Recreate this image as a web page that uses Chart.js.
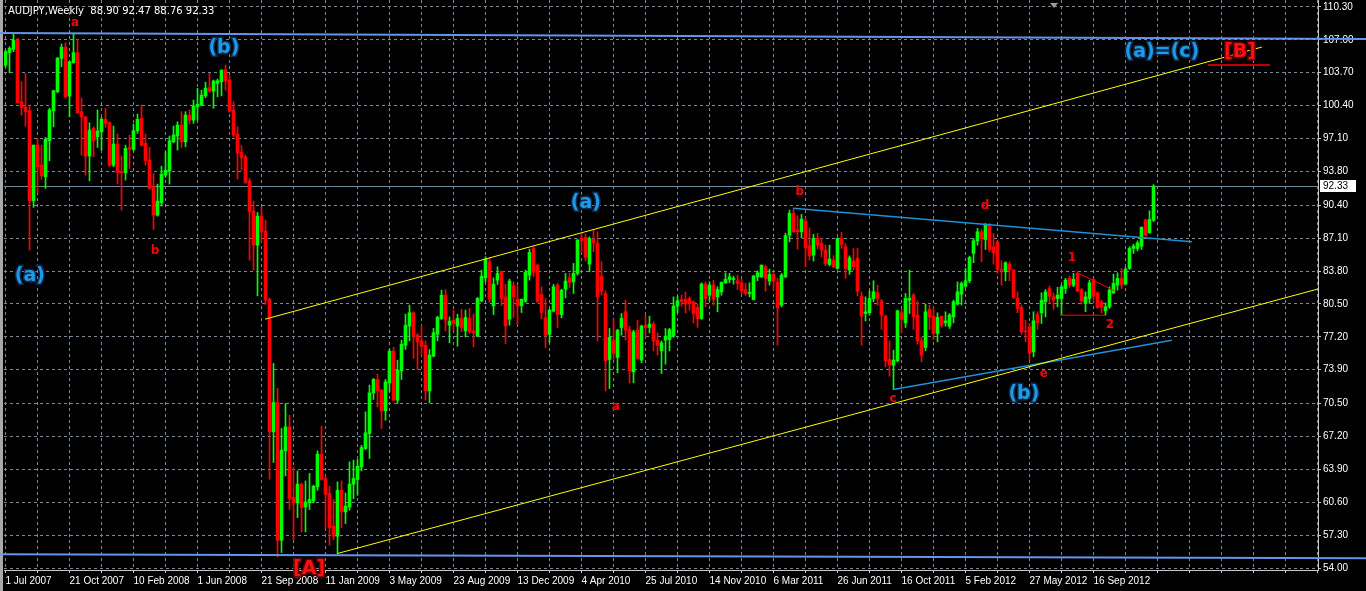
<!DOCTYPE html>
<html>
<head>
<meta charset="utf-8">
<title>AUDJPY Weekly</title>
<script src="https://cdn.jsdelivr.net/npm/chart.js@4.4.0/dist/chart.umd.min.js"></script>
<style>
  html, body { margin: 0; padding: 0; background: #000; overflow: hidden; }
  canvas { display: block; }
</style>
</head>
<body>
<canvas id="chart" width="1366" height="591"></canvas>
<script>
// Weekly AUDJPY bars, one per week starting 1 Jul 2007
const opens = [104.47,105.71,106.05,106.98,100.79,100.23,99.89,90.85,96.44,94.43,
93.26,96.87,99.89,101.79,105.15,106.25,101.36,104.71,105.71,99.79,
99.28,95.34,98.12,97.28,97.78,99.02,98.68,94.43,96.54,93.76,
93.66,96.21,96.01,97.88,99.12,96.61,94.94,92.26,89.41,90.65,
93.43,93.86,96.77,97.35,98.45,96.77,99.45,98.95,100.29,100.46,
101.39,102.19,101.86,102.64,102.80,103.97,102.97,99.96,97.52,95.71,
95.27,92.83,89.82,86.40,89.31,87.81,80.95,67.66,70.61,56.78,
65.75,68.16,61.07,60.53,62.41,60.13,60.53,60.73,62.14,65.42,
62.98,61.47,58.19,57.19,61.80,59.63,60.13,62.41,62.88,64.14,
65.99,67.50,71.57,72.92,71.84,69.77,72.58,75.76,70.84,73.78,
76.36,78.27,79.61,77.37,76.79,76.36,71.77,75.26,77.47,79.04,
81.38,78.37,78.87,78.27,79.04,77.80,79.04,77.80,77.27,80.78,
83.12,84.73,80.31,82.89,83.79,81.21,78.97,82.32,80.98,80.31,
80.78,83.39,86.07,84.40,81.45,79.10,77.44,79.78,82.39,79.44,
81.98,83.12,82.72,83.56,87.07,87.18,84.49,86.97,86.57,83.29,
81.55,74.93,76.86,75.13,78.14,79.71,77.94,73.68,77.87,74.86,
78.37,78.14,78.47,76.86,75.79,76.86,76.93,77.27,80.28,80.95,
80.95,81.05,80.71,80.15,79.04,82.49,81.38,82.39,81.21,81.71,
82.62,82.96,82.96,82.82,82.62,81.95,81.55,80.95,83.22,83.22,
84.23,82.79,83.46,82.66,80.38,83.22,87.41,89.58,87.91,87.74,
88.81,86.34,85.40,87.07,86.57,85.90,84.46,84.90,84.06,87.07,
86.23,83.89,84.80,85.07,81.28,79.54,79.61,81.05,81.61,80.81,
79.27,74.93,74.35,74.79,79.61,78.60,80.88,81.38,79.37,76.79,
76.13,79.95,79.27,77.54,79.27,78.60,78.27,79.20,80.48,81.48,
82.29,82.82,85.57,86.83,87.74,86.97,88.41,86.23,86.73,83.96,
83.72,84.49,83.89,81.05,80.15,77.80,78.20,75.69,79.47,79.61,
80.71,82.05,81.21,81.05,81.05,82.05,83.06,82.39,83.56,81.95,
80.55,81.05,82.96,81.61,80.71,79.81,80.21,81.61,82.39,83.06,
82.49,84.06,86.07,86.07,86.30,88.91,87.64,88.90];

const highs = [105.98,106.31,107.59,107.15,102.80,103.64,100.46,96.44,97.11,96.44,
97.21,100.13,101.96,105.25,106.58,106.71,104.81,107.59,107.05,101.13,
99.28,98.68,98.28,99.96,99.22,100.13,98.78,98.35,97.55,95.34,
96.44,97.45,98.55,99.55,100.46,97.55,96.21,93.60,92.53,94.33,
95.77,97.35,98.35,98.78,99.79,99.79,99.96,100.96,102.13,101.96,
102.74,103.64,102.97,103.07,103.97,104.47,103.40,100.79,98.28,96.37,
95.44,93.10,90.82,89.68,90.19,88.91,81.11,74.53,72.02,68.00,
70.51,69.33,64.14,63.74,62.54,62.74,63.48,62.31,65.75,68.23,
63.14,62.21,60.87,62.64,62.74,61.53,64.65,64.82,64.89,66.32,
69.67,72.35,73.02,73.45,71.91,72.92,75.93,76.13,74.86,76.86,
79.47,80.38,79.71,77.54,78.37,76.79,75.93,78.04,79.27,81.88,
81.95,79.20,79.88,79.47,79.95,79.88,80.05,79.47,81.15,83.89,
85.23,85.13,83.12,84.22,83.79,82.46,82.99,82.72,82.32,80.98,
83.89,86.00,86.23,84.46,82.22,81.05,79.98,82.46,82.56,81.98,
83.56,83.56,84.56,86.97,87.58,87.51,87.24,87.91,87.74,84.73,
81.81,78.04,78.94,77.94,79.54,80.88,78.27,77.87,78.87,78.37,
79.37,79.27,78.70,77.60,76.79,78.04,78.04,81.21,81.28,81.38,
81.71,81.21,80.81,80.48,82.62,82.72,82.72,82.89,82.22,82.72,
83.62,83.56,83.29,83.39,82.96,82.56,82.62,83.39,83.82,84.40,
84.40,83.99,83.66,83.06,83.56,87.58,89.92,90.02,89.34,89.48,
89.14,88.14,87.48,87.58,87.07,86.40,86.40,85.33,87.14,87.68,
86.57,85.33,86.07,86.07,81.71,81.21,81.81,82.82,82.39,80.95,
79.37,76.79,75.86,79.88,79.95,81.55,83.89,81.55,80.81,77.14,
80.48,80.38,80.15,79.61,79.27,79.71,79.54,80.88,82.72,82.72,
84.06,85.30,87.07,88.08,87.98,88.58,88.58,87.58,86.83,84.83,
84.73,84.73,83.96,81.71,80.38,78.87,78.54,79.71,79.71,81.61,
81.95,82.29,81.61,82.16,82.39,83.06,83.29,83.56,83.72,82.05,
81.71,82.89,83.06,81.71,80.88,80.61,82.22,83.49,83.62,84.06,
84.16,86.23,86.50,86.83,88.24,89.01,89.85,92.47];

const lows = [104.31,103.70,105.81,100.63,99.45,98.35,85.90,90.19,91.65,93.00,
92.10,94.87,98.28,101.69,104.31,101.19,99.28,104.65,99.62,95.44,
93.43,92.86,95.27,96.21,95.94,98.22,94.26,94.26,92.53,89.92,
92.93,94.10,95.87,97.62,96.34,94.43,92.00,87.98,89.31,90.32,
93.20,92.53,96.67,95.94,96.21,96.27,98.55,98.62,98.95,100.39,
101.19,101.73,100.13,101.29,101.39,101.96,99.73,97.28,93.03,93.93,
92.60,84.90,83.89,81.31,86.73,80.45,62.91,64.59,55.11,55.55,
63.24,59.87,56.78,59.06,57.62,57.62,59.87,60.53,61.80,62.81,
57.96,56.28,56.85,55.45,58.06,58.46,59.80,60.97,61.30,63.74,
65.89,64.99,70.91,70.17,68.00,68.83,71.67,70.77,70.51,72.92,
75.93,76.79,75.03,73.92,75.36,70.84,70.57,75.19,76.79,78.94,
77.80,76.59,77.80,76.26,77.70,77.20,77.54,76.19,77.20,80.71,
82.72,80.65,79.44,82.46,80.31,76.53,78.37,79.10,78.44,79.64,
80.65,82.89,83.22,80.65,78.97,76.09,76.63,79.71,78.10,79.10,
81.11,82.12,81.55,83.39,85.63,84.83,83.72,85.73,76.79,81.38,
71.77,72.01,74.93,73.58,77.37,76.86,72.58,72.58,74.93,74.59,
77.14,77.60,75.79,75.36,73.52,74.45,75.79,77.14,79.61,80.28,
79.61,79.88,78.60,78.14,78.94,80.21,80.81,80.38,79.71,81.38,
82.56,82.62,82.49,81.95,81.48,81.38,81.21,80.88,82.82,83.16,
81.78,82.39,81.88,76.36,80.21,83.12,86.73,87.68,86.00,87.14,
84.23,84.90,84.80,86.00,85.23,84.32,84.32,84.12,83.99,86.07,
83.06,83.46,83.89,81.31,76.36,78.80,79.37,80.71,80.38,77.94,
74.18,73.25,71.91,74.69,77.60,78.14,79.54,77.94,76.46,74.69,
75.79,77.94,76.93,76.69,78.14,78.27,78.04,78.60,80.38,80.38,
82.16,82.62,84.63,86.40,84.73,85.97,85.73,84.49,83.56,82.39,
82.82,82.82,81.05,79.61,77.47,76.69,74.86,75.19,77.94,78.54,
79.20,80.55,79.95,80.21,79.37,81.55,82.16,82.22,81.71,80.48,
79.71,80.55,80.71,80.05,79.61,79.37,80.05,81.55,81.88,82.05,
82.39,83.96,85.57,85.83,85.97,87.31,87.58,88.76];

const closes = [105.81,106.15,106.98,100.69,100.23,99.79,90.85,96.44,94.26,93.36,
97.01,99.96,101.89,105.15,106.25,101.29,104.81,105.71,99.69,99.28,
95.34,97.95,96.87,97.85,99.02,98.62,94.43,96.54,93.70,93.66,
96.11,96.04,97.88,99.02,96.44,94.87,92.10,89.41,90.82,93.53,
93.93,96.87,97.45,98.45,96.77,99.45,98.95,100.36,100.53,101.46,
102.13,101.86,102.87,102.90,103.97,102.87,99.86,97.45,95.67,95.17,
92.70,89.75,86.40,89.31,87.74,80.88,67.66,70.61,56.78,65.82,
68.16,60.97,60.53,62.41,60.07,60.63,60.87,62.21,65.42,62.88,
61.40,58.06,57.19,61.80,59.63,60.20,62.41,62.98,64.21,66.09,
67.56,71.57,72.92,71.77,69.77,72.68,75.76,70.84,73.85,76.46,
78.37,79.61,77.27,76.69,76.26,71.77,75.36,77.60,79.14,81.38,
78.87,78.77,78.54,79.04,78.14,79.14,77.70,77.60,81.05,83.29,
84.97,80.98,82.49,83.56,81.05,78.30,82.79,81.21,80.31,80.98,
83.66,85.67,83.66,80.71,79.64,77.37,79.88,82.22,79.44,81.88,
82.79,82.66,83.56,86.90,86.83,85.17,87.07,86.63,81.21,81.81,
74.79,77.14,75.53,77.87,79.04,77.87,73.78,77.70,75.03,78.27,
78.14,78.47,76.79,76.36,76.59,77.27,77.94,80.28,80.81,80.71,
80.48,80.55,79.54,79.04,82.49,81.05,82.39,80.95,81.95,82.66,
82.96,83.22,82.99,82.56,81.81,81.55,81.61,83.29,83.62,84.40,
83.06,83.46,82.79,80.11,83.39,87.34,89.58,87.74,87.74,89.01,
86.13,85.33,87.07,86.40,85.90,84.56,84.99,84.23,87.07,86.47,
84.06,85.13,84.23,81.78,79.27,79.71,81.05,81.71,81.05,79.37,
74.79,74.35,74.86,79.81,78.94,81.05,81.05,79.20,76.79,75.36,
79.71,79.20,77.54,79.14,78.37,78.80,79.37,80.71,81.71,82.56,
82.82,85.17,86.83,87.74,87.07,88.41,85.97,85.63,83.96,83.89,
84.63,83.89,81.15,80.05,77.70,77.70,75.59,78.80,78.60,80.88,
81.71,81.28,80.88,81.38,82.22,82.89,82.39,82.96,81.81,80.81,
81.21,82.62,81.28,80.15,80.21,80.21,81.88,82.56,83.06,82.39,
83.96,86.07,86.30,86.63,88.18,87.41,88.98,92.33];

// Axis labels
const dateLabels = ['1 Jul 2007', '21 Oct 2007', '10 Feb 2008', '1 Jun 2008', '21 Sep 2008', '11 Jan 2009',
  '3 May 2009', '23 Aug 2009', '13 Dec 2009', '4 Apr 2010', '25 Jul 2010', '14 Nov 2010',
  '6 Mar 2011', '26 Jun 2011', '16 Oct 2011', '5 Feb 2012', '27 May 2012', '16 Sep 2012'];
const priceTicks = [110.30, 107.00, 103.70, 100.40, 97.10, 93.80, 90.40, 87.10, 83.80, 80.50,
  77.20, 73.90, 70.50, 67.20, 63.90, 60.60, 57.30, 54.00];

// Drawn objects: [bar index, price] end points
const blueTop = [[-1.5, 107.69], [340.5, 107.08]];
const blueBottom = [[-1.5, 55.38], [340.5, 54.98]];
const channelUpper = [[64.9, 78.97], [314.1, 106.28]];
const channelLower = [[82.95, 55.45], [328.1, 82.00]];
const triangleUpper = [[196.9, 90.09], [296.6, 86.75]];
const triangleLower = [[221.95, 71.91], [291.6, 76.86]];
const redSlope = [[267.9, 83.66], [277.3, 81.81]];
const redFlat = [[263.9, 79.37], [275.1, 79.37]];
const redUnderB = [[300.6, 104.47], [316.1, 104.47]];

// Wave labels: [text, bar index, price]
const waveLabels = [['(a)', 6.1, 83.29], ['(b)', 54.6, 106.18], ['(a)', 145.1, 90.62],
  ['(b)', 254.6, 71.44], ['(a)=(c)', 289.1, 105.78]];
const bracketLabels = [['[A]', 75.9, 53.87], ['[B]', 308.6, 105.78]];
const minorLabels = [['a', 17.4, 108.69], ['b', 37.4, 85.80], ['a', 152.6, 70.14], ['b', 198.6, 91.72],
  ['c', 221.9, 70.94], ['d', 244.9, 90.32], ['e', 259.6, 73.45], ['1', 266.6, 85.10], ['2', 276.1, 78.37]];

const last = closes.length - 1;
const bull = '#00ff00';
const bear = '#ff0000';
const barColors = closes.map((c, i) => c >= opens[i] ? bull : bear);

const wickData = lows.map((l, i) => ({ x: i, y: [l, highs[i]] }));
const bodyData = opens.map((o, i) => ({ x: i, y: [o, closes[i]] }));

const toPoints = pts => pts.map(p => ({ x: p[0], y: p[1] }));
function trend(pts, color, width) {
    return {
        type: 'line', data: toPoints(pts), borderColor: color, borderWidth: width,
        pointRadius: 0, clip: false, order: 0, tension: 0
    };
}

const xGrid = [];
for (let v = 0; v <= 328; v += 8) xGrid.push(v);

const font = { family: 'Liberation Sans', size: 10 };

function drawLabel(ctx, text, px, py, fill, size, stroke) {
    ctx.font = 'bold ' + size + 'px "DejaVu Sans"';
    ctx.textAlign = 'center';
    ctx.textBaseline = 'middle';
    if (stroke) {
        ctx.lineWidth = 3;
        ctx.strokeStyle = stroke;
        ctx.strokeText(text, px, py);
    }
    ctx.fillStyle = fill;
    ctx.fillText(text, px, py);
}

const overlay = {
    id: 'overlay',
    beforeDraw(chart) {
        const ctx = chart.ctx;
        ctx.save();
        ctx.fillStyle = '#000';
        ctx.fillRect(0, 0, chart.width, chart.height);
        ctx.fillStyle = '#a8a8a8';
        ctx.fillRect(0, 0, 3, chart.height);
        ctx.restore();
    },
    beforeDatasetsDraw(chart) {
        // current price line
        const { ctx, chartArea, scales: { y } } = chart;
        const py = Math.round(y.getPixelForValue(closes[last])) + 0.5;
        ctx.save();
        ctx.strokeStyle = '#778899';
        ctx.lineWidth = 1;
        ctx.beginPath();
        ctx.moveTo(chartArea.left, py);
        ctx.lineTo(chartArea.right, py);
        ctx.stroke();
        ctx.restore();
    },
    afterDraw(chart) {
        const { ctx, chartArea, scales: { x, y } } = chart;
        ctx.save();
        waveLabels.forEach(l => drawLabel(ctx, l[0], x.getPixelForValue(l[1]), y.getPixelForValue(l[2]), '#1e9be6', 19, '#0a2a50'));
        bracketLabels.forEach(l => drawLabel(ctx, l[0], x.getPixelForValue(l[1]), y.getPixelForValue(l[2]), '#ff1010', 19, '#5a0000'));
        minorLabels.forEach(l => drawLabel(ctx, l[0], x.getPixelForValue(l[1]), y.getPixelForValue(l[2]), '#ff0000', 12, null));

        // header
        ctx.font = '10px "DejaVu Sans"';
        ctx.textAlign = 'left';
        ctx.textBaseline = 'middle';
        ctx.fillStyle = '#ffffff';
        ctx.fillText('AUDJPY,Weekly  ' + [opens[last], highs[last], lows[last], closes[last]].map(v => v.toFixed(2)).join(' '), 8, 11);

        // shift marker
        ctx.fillStyle = '#9a9a9a';
        ctx.beginPath();
        ctx.moveTo(1050, 3);
        ctx.lineTo(1058, 3);
        ctx.lineTo(1054, 8);
        ctx.closePath();
        ctx.fill();

        // price box on the axis
        const py = Math.round(y.getPixelForValue(closes[last]));
        ctx.font = '10px "Liberation Sans"';
        ctx.fillStyle = '#ffffff';
        ctx.fillRect(chartArea.right + 2, py - 6, 36, 12);
        ctx.fillStyle = '#000000';
        ctx.fillText(closes[last].toFixed(2), chartArea.right + 5, py);
        ctx.restore();
    }
};

new Chart(document.getElementById('chart'), {
    type: 'bar',
    data: {
        datasets: [
            trend(blueTop, '#6495ed', 2),
            trend(blueBottom, '#6495ed', 2),
            trend(channelUpper, '#ffff00', 1),
            trend(channelLower, '#ffff00', 1),
            trend(triangleUpper, '#1e90d8', 1.5),
            trend(triangleLower, '#1e90d8', 1.5),
            trend(redSlope, '#ff0000', 1),
            trend(redFlat, '#ff0000', 1),
            trend(redUnderB, '#ff0000', 1.5),
            {
                label: 'Body', data: bodyData, backgroundColor: barColors, borderWidth: 0,
                barThickness: 3, minBarLength: 1, grouped: false, order: 1
            },
            {
                label: 'Wick', data: wickData, backgroundColor: barColors, borderWidth: 0,
                barThickness: 1, grouped: false, order: 2
            }
        ]
    },
    options: {
        responsive: false,
        devicePixelRatio: 1,
        animation: false,
        layout: { padding: { left: 4, right: 0, top: 0, bottom: 0 } },
        plugins: { legend: { display: false }, tooltip: { enabled: false } },
        scales: {
            x: {
                type: 'linear',
                offset: false,
                min: -0.375,
                max: 328.125,
                afterBuildTicks: s => { s.ticks = xGrid.map(v => ({ value: v })); },
                afterFit: s => { s.height = 21; s.paddingLeft = 0; s.paddingRight = 0; },
                grid: { offset: false, color: '#778899', tickLength: 3, tickColor: '#c8c8c8' },
                border: { display: true, color: '#c8c8c8', dash: [3, 3] },
                ticks: {
                    color: '#ffffff', font: font, align: 'start', maxRotation: 0, autoSkip: false, padding: 2,
                    callback: v => (v % 16 === 0 && dateLabels[v / 16]) ? dateLabels[v / 16] : ''
                }
            },
            y: {
                position: 'right',
                min: 53.80,
                max: 111.00,
                afterBuildTicks: s => { s.ticks = priceTicks.map(v => ({ value: v })); },
                afterFit: s => { s.width = 48; s.paddingTop = 0; s.paddingBottom = 0; },
                grid: { color: '#778899', tickLength: 3, tickColor: '#c8c8c8' },
                border: { display: true, color: '#c8c8c8', dash: [3, 3] },
                ticks: { color: '#ffffff', font: font, padding: 2, callback: v => v.toFixed(2) }
            }
        }
    },
    plugins: [overlay]
});
</script>
</body>
</html>
